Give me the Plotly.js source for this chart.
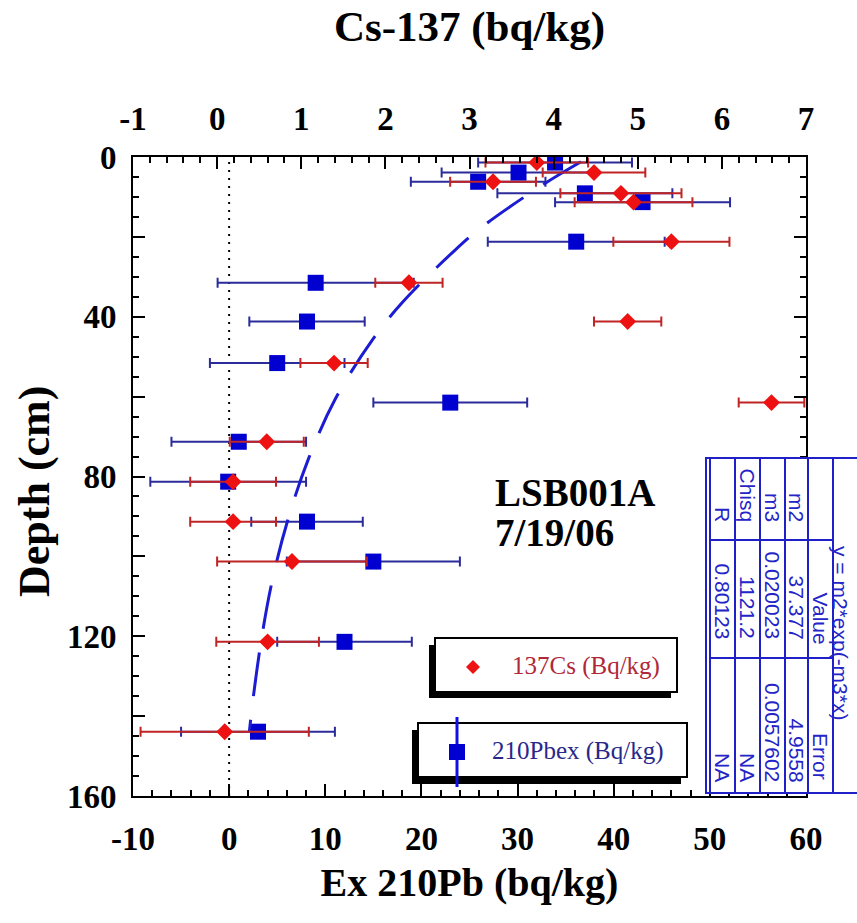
<!DOCTYPE html>
<html><head><meta charset="utf-8">
<script src="https://cdn.plot.ly/plotly-3.0.1.min.js"></script>
<style>html,body{margin:0;padding:0;background:#fff}#chart{width:857px;height:923px}</style>
</head><body><div id="chart"></div>
<script>
// ---- data ----
const depthCm    = [1.4, 3.9, 6.2, 9.1, 11.3, 21.2, 31.5, 41.2, 51.6, 61.5, 71.3, 81.3, 91.3, 101.3, 121.4, 143.9];
const cs137      = [3.80, 4.48, 3.28, 4.80, 4.95, 5.40, 2.28, 4.88, 1.39, 6.59, 0.59, 0.19, 0.19, 0.89, 0.60, 0.09];
const cs137Err   = [0.61, 0.61, 0.51, 0.72, 0.70, 0.69, 0.40, 0.40, 0.40, 0.39, 0.44, 0.51, 0.51, 0.89, 0.61, 1.00];
const pb210ex    = [33.9, 30.1, 25.9, 37.0, 43.0, 36.1, 9.0, 8.1, 5.0, 23.0, 1.0, -0.1, 8.1, 15.0, 12.0, 3.0];
const pb210exErr = [8.0, 8.0, 7.0, 9.1, 9.1, 9.2, 10.2, 6.0, 7.0, 8.0, 7.0, 8.1, 5.8, 9.0, 7.0, 8.0];
const fitDepth   = [1.2, 7, 17.5, 23.3, 36.2, 45.8, 60.8, 75.9, 90.9, 105.9, 120.1, 135.5, 144];
const fitPb      = [36.6, 32.6, 26.3, 23.5, 18.1, 14.9, 11.0, 8.2, 6.1, 4.5, 3.4, 2.5, 2.1];

const pbTicks = [-10, 0, 10, 20, 30, 40, 50, 60];
const csTicks = [-1, 0, 1, 2, 3, 4, 5, 6, 7];
const depthTickVals = [0, 20, 40, 60, 80, 100, 120, 140, 160];
const depthTickText = ['0', '', '40', '', '80', '', '120', '', '160'];

const fitTitle = 'y = m2*exp(-m3*x)';
const fitHeaders = ['Value', 'Error'];
const fitNames = ['m2', 'm3', 'Chisq', 'R'];
const fitValues = ['37.377', '0.020023', '1121.2', '0.80123'];
const fitErrors = ['4.9558', '0.0057602', 'NA', 'NA'];

const sampleLabel = ['LSB001A', '7/19/06'];
const legendCs = '137Cs (Bq/kg)';
const legendPb = '210Pbex (Bq/kg)';

// ---- layout helpers (pixel -> paper) ----
const L = 133, R = 806, T = 157, B = 796;
const px = x => (x - L) / (R - L);
const py = y => 1 - (y - T) / (B - T);

const serifBold = (s) => ({family: 'Liberation Serif, Times New Roman, serif', size: s, color: '#000', weight: 'bold'});
const blueTxt = '#2424c8';
const sansBlue = (s) => ({family: 'Liberation Sans, Arial, sans-serif', size: s, color: blueTxt});

const traces = [
  {
    x: cs137, y: depthCm, xaxis: 'x2', yaxis: 'y', type: 'scatter', mode: 'markers',
    name: legendCs,
    marker: {symbol: 'diamond', size: 13, color: '#ee1111'},
    error_x: {type: 'data', array: cs137Err, visible: true, color: '#c02424', thickness: 2, width: 5}
  },
  {
    x: pb210ex, y: depthCm, xaxis: 'x', yaxis: 'y', type: 'scatter', mode: 'markers',
    name: legendPb,
    marker: {symbol: 'square', size: 16, color: '#0000d0'},
    error_x: {type: 'data', array: pb210exErr, visible: true, color: '#2b2b9c', thickness: 2, width: 5}
  },
  {
    x: fitPb, y: fitDepth, xaxis: 'x', yaxis: 'y', type: 'scatter', mode: 'lines',
    name: 'fit',
    line: {color: '#1c1cd2', width: 3, dash: '44px,24px', shape: 'spline', smoothing: 1}
  }
];

const shapes = [];
const annotations = [];

// dotted zero line on Pb axis
shapes.push({type: 'line', xref: 'x', yref: 'paper', x0: 0, x1: 0, y0: 0, y1: 1,
  line: {color: '#000', width: 2, dash: '2px,6px'}, layer: 'below'});

// legend box 1 (137Cs)
shapes.push({type: 'rect', xref: 'paper', yref: 'paper', x0: px(429), x1: px(671), y0: py(698), y1: py(645),
  fillcolor: '#000', line: {width: 0}, layer: 'above'});
shapes.push({type: 'rect', xref: 'paper', yref: 'paper', x0: px(435), x1: px(677), y0: py(692), y1: py(638),
  fillcolor: '#fff', line: {color: '#000', width: 2}, layer: 'above'});
shapes.push({type: 'path', xref: 'paper', yref: 'paper', layer: 'above',
  path: `M ${px(473)} ${py(660)} L ${px(480)} ${py(667)} L ${px(473)} ${py(674)} L ${px(466)} ${py(667)} Z`,
  fillcolor: '#ee1111', line: {width: 0}});
annotations.push({xref: 'paper', yref: 'paper', x: px(510), y: py(666), xanchor: 'left', yanchor: 'middle',
  text: legendCs, showarrow: false, font: {family: 'Liberation Serif, Times New Roman, serif', size: 25, color: '#b02838'}});

// legend box 2 (210Pbex)
shapes.push({type: 'rect', xref: 'paper', yref: 'paper', x0: px(412), x1: px(681), y0: py(784), y1: py(730),
  fillcolor: '#000', line: {width: 0}, layer: 'above'});
shapes.push({type: 'rect', xref: 'paper', yref: 'paper', x0: px(418), x1: px(687), y0: py(777), y1: py(723),
  fillcolor: '#fff', line: {color: '#000', width: 2}, layer: 'above'});
shapes.push({type: 'line', xref: 'paper', yref: 'paper', x0: px(457), x1: px(457), y0: py(787), y1: py(717),
  line: {color: '#1010e0', width: 3}, layer: 'above'});
shapes.push({type: 'rect', xref: 'paper', yref: 'paper', x0: px(449), x1: px(465), y0: py(760), y1: py(744),
  fillcolor: '#0000d0', line: {width: 0}, layer: 'above'});
annotations.push({xref: 'paper', yref: 'paper', x: px(490), y: py(751), xanchor: 'left', yanchor: 'middle',
  text: legendPb, showarrow: false, font: {family: 'Liberation Serif, Times New Roman, serif', size: 25, color: '#28288a'}});

// fit statistics box (rotated)
const boxLine = {color: '#2020c8', width: 2};
shapes.push({type: 'rect', xref: 'paper', yref: 'paper', x0: px(706), x1: px(880), y0: py(793), y1: py(458),
  fillcolor: '#fff', line: boxLine, layer: 'above'});
[710, 735, 760, 785, 808, 833].forEach(xv => shapes.push({type: 'line', xref: 'paper', yref: 'paper',
  x0: px(xv), x1: px(xv), y0: py(793), y1: py(458), line: boxLine, layer: 'above'}));
[540, 658].forEach(yv => shapes.push({type: 'line', xref: 'paper', yref: 'paper',
  x0: px(710), x1: px(833), y0: py(yv), y1: py(yv), line: boxLine, layer: 'above'}));

const rowX = [796.5, 772.5, 747.5, 722.5];
annotations.push({xref: 'paper', yref: 'paper', x: px(841), y: py(633), xanchor: 'center', yanchor: 'middle',
  text: fitTitle, textangle: 90, showarrow: false, font: sansBlue(21)});
annotations.push({xref: 'paper', yref: 'paper', x: px(820.5), y: py(646), xanchor: 'center', yanchor: 'bottom',
  text: fitHeaders[0], textangle: 90, showarrow: false, font: sansBlue(21)});
annotations.push({xref: 'paper', yref: 'paper', x: px(820.5), y: py(782), xanchor: 'center', yanchor: 'bottom',
  text: fitHeaders[1], textangle: 90, showarrow: false, font: sansBlue(21)});
fitNames.forEach((n, i) => {
  annotations.push({xref: 'paper', yref: 'paper', x: px(rowX[i]), y: py(524), xanchor: 'center', yanchor: 'bottom',
    text: n, textangle: 90, showarrow: false, font: sansBlue(21)});
  annotations.push({xref: 'paper', yref: 'paper', x: px(rowX[i]), y: py(641), xanchor: 'center', yanchor: 'bottom',
    text: fitValues[i], textangle: 90, showarrow: false, font: sansBlue(21)});
  annotations.push({xref: 'paper', yref: 'paper', x: px(rowX[i]), y: py(784), xanchor: 'center', yanchor: 'bottom',
    text: fitErrors[i], textangle: 90, showarrow: false, font: sansBlue(21)});
});

// sample label
annotations.push({xref: 'paper', yref: 'paper', x: px(493), y: py(492), xanchor: 'left', yanchor: 'middle',
  text: sampleLabel[0], showarrow: false, font: serifBold(39)});
annotations.push({xref: 'paper', yref: 'paper', x: px(493), y: py(532), xanchor: 'left', yanchor: 'middle',
  text: sampleLabel[1], showarrow: false, font: serifBold(39)});

// y axis title
annotations.push({xref: 'paper', yref: 'paper', x: px(34), y: py(492), xanchor: 'center', yanchor: 'middle',
  text: 'Depth (cm)', textangle: -90, showarrow: false, font: serifBold(44)});

const tickCommon = {
  ticks: 'inside', ticklen: 12, tickwidth: 2, tickcolor: '#000',
  showline: true, linewidth: 2, linecolor: '#000',
  showgrid: false, zeroline: false,
  tickfont: serifBold(33)
};

const layout = {
  width: 857, height: 923,
  margin: {l: L, r: 857 - R, t: T, b: 923 - B, pad: 0},
  paper_bgcolor: '#fff', plot_bgcolor: '#fff',
  showlegend: false,
  xaxis: Object.assign({}, tickCommon, {
    range: [-10, 60], tickmode: 'array', tickvals: pbTicks, ticktext: pbTicks.map(String),
    anchor: 'y', side: 'bottom', mirror: false, ticklabelstandoff: 12,
    minor: {tickmode: 'linear', tick0: 0, dtick: 2, ticks: 'inside', ticklen: 6, tickwidth: 2, tickcolor: '#000'},
    title: {text: 'Ex 210Pb (bq/kg)', font: serifBold(40), standoff: 12}
  }),
  xaxis2: Object.assign({}, tickCommon, {
    range: [-1, 7], tickmode: 'array', tickvals: csTicks, ticktext: csTicks.map(String),
    overlaying: 'x', anchor: 'y', side: 'top', mirror: false, ticklabelstandoff: 12,
    minor: {tickmode: 'linear', tick0: 0, dtick: 0.2, ticks: 'inside', ticklen: 6, tickwidth: 2, tickcolor: '#000'},
    title: {text: 'Cs-137 (bq/kg)', font: serifBold(43), standoff: 46}
  }),
  yaxis: Object.assign({}, tickCommon, {
    range: [160, 0], tickmode: 'array', tickvals: depthTickVals, ticktext: depthTickText,
    mirror: 'ticks', ticklabelstandoff: 8,
    minor: {tickmode: 'linear', tick0: 0, dtick: 5, ticks: 'inside', ticklen: 6, tickwidth: 2, tickcolor: '#000'},
    title: {text: ''}
  }),
  shapes: shapes,
  annotations: annotations
};

Plotly.newPlot('chart', traces, layout, {displayModeBar: false, staticPlot: true});
</script>
</body></html>
